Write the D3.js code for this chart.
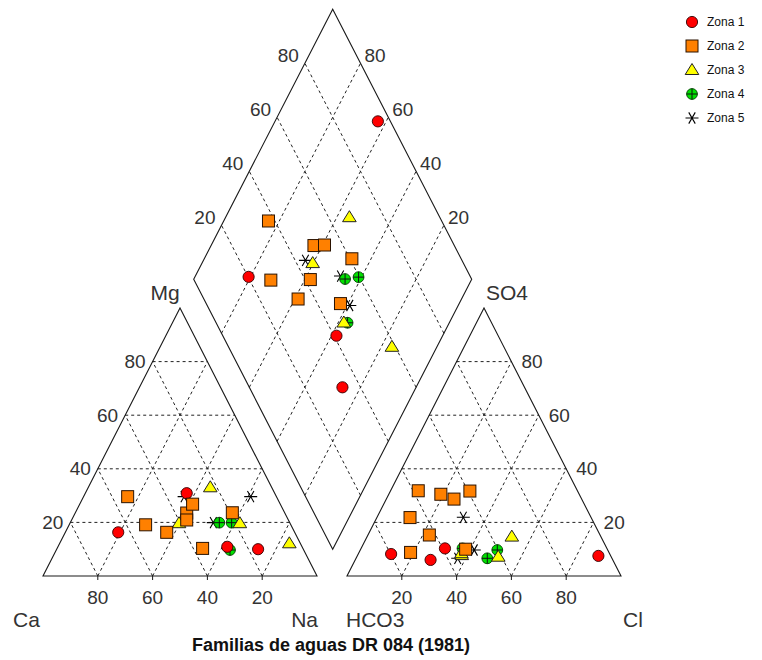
<!DOCTYPE html>
<html>
<head>
<meta charset="utf-8">
<script src="https://cdn.jsdelivr.net/npm/d3@7"></script>
<style>
html,body{margin:0;padding:0;background:#fff;}
svg{display:block;font-family:"Liberation Sans",Arial,sans-serif;}
</style>
</head>
<body>
<svg id="chart" width="762" height="660"></svg>
<script>
// ---- data (milliequivalent percentages) ----
const zoneNames = ["Zona 1", "Zona 2", "Zona 3", "Zona 4", "Zona 5"];
const zona1 = [
  {Ca:64.4, Mg:16.3, Na:19.3, HCO3:79.8, SO4:8.2,  Cl:12.0},
  {Ca:32.1, Mg:30.9, Na:37.0, HCO3:4.5,  SO4:7.5,  Cl:88.0},
  {Ca:27.3, Mg:10.9, Na:61.8, HCO3:59.1, SO4:10.3, Cl:30.6},
  {Ca:16.5, Mg:10.0, Na:73.5, HCO3:66.5, SO4:6.0,  Cl:27.5}
];
const zona2 = [
  {Ca:54.3, Mg:29.6, Na:16.1, HCO3:62.3, SO4:15.3, Cl:22.4},
  {Ca:46.7, Mg:16.3, Na:37.0, HCO3:50.5, SO4:30.5, Cl:19.0},
  {Ca:35.8, Mg:23.5, Na:40.7, HCO3:46.6, SO4:28.7, Cl:24.7},
  {Ca:36.6, Mg:10.3, Na:53.1, HCO3:39.3, SO4:31.7, Cl:29.0},
  {Ca:53.0, Mg:19.1, Na:27.9, HCO3:72.4, SO4:8.8,  Cl:18.8},
  {Ca:37.1, Mg:20.9, Na:42.0, HCO3:58.1, SO4:31.8, Cl:10.1},
  {Ca:32.0, Mg:26.8, Na:41.2, HCO3:66.1, SO4:21.8, Cl:12.1},
  {Ca:19.1, Mg:23.6, Na:57.3, HCO3:51.7, SO4:10.0, Cl:38.3}
];
const zona3 = [
  {Ca:22.4, Mg:33.1, Na:44.5, HCO3:32.5, SO4:14.7, Cl:52.8},
  {Ca:40.5, Mg:19.7, Na:39.8, HCO3:54.2, SO4:7.8,  Cl:38.0},
  {Ca:18.3, Mg:19.7, Na:62.0, HCO3:54.0, SO4:8.5,  Cl:37.5},
  {Ca:4.0,  Mg:12.2, Na:83.8, HCO3:41.2, SO4:7.2,  Cl:51.6}
];
const zona4 = [
  {Ca:25.7, Mg:19.9, Na:54.4, HCO3:45.5, SO4:6.6,  Cl:47.9},
  {Ca:21.2, Mg:19.9, Na:58.9, HCO3:40.3, SO4:9.7,  Cl:50.0},
  {Ca:26.9, Mg:9.7,  Na:63.4, HCO3:52.7, SO4:10.3, Cl:37.0}
];
const zona5 = [
  {Ca:33.7, Mg:29.6, Na:36.7, HCO3:56.3, SO4:6.6,  Cl:37.1},
  {Ca:27.9, Mg:19.9, Na:52.2, HCO3:46.6, SO4:21.9, Cl:31.5},
  {Ca:9.4,  Mg:29.6, Na:61.0, HCO3:48.7, SO4:9.7,  Cl:41.6}
];
const gridTicks = [20, 40, 60, 80];
const cationLabels = ["Mg", "Ca", "Na"];
const anionLabels = ["SO4", "HCO3", "Cl"];
const titleText = "Familias de aguas DR 084 (1981)";

// ---- layout ----
const svg = d3.select("#chart");
svg.append("rect").attr("width", 762).attr("height", 660).attr("fill", "#fff");

const baseY = 576, topY = 308;
const xCat = d3.scaleLinear().domain([0, 100]).range([43, 317]);
const xAn  = d3.scaleLinear().domain([0, 100]).range([347, 621]);
const yTri = d3.scaleLinear().domain([0, 100]).range([baseY, topY]);
const dX = d3.scaleLinear().domain([-100, 100]).range([332.7 - 139, 332.7 + 139]);
const dY = d3.scaleLinear().domain([0, 200]).range([549.3, 9.3]);

const cat = (mg, na) => [xCat(na + mg / 2), yTri(mg)];
const an  = (so4, cl) => [xAn(cl + so4 / 2), yTri(so4)];
const dia = (a, b) => [dX(b - a), dY(a + b)]; // a = Ca+Mg %, b = SO4+Cl %

const line = d3.line();
const ink = "#1a1a1a";

function drawPoly(pts) {
  svg.append("path").attr("d", line(pts) + "Z")
    .attr("fill", "none").attr("stroke", ink).attr("stroke-width", 1.1);
}
function drawDash(p, q) {
  svg.append("path").attr("d", line([p, q]))
    .attr("fill", "none").attr("stroke", "#222").attr("stroke-width", 1)
    .attr("stroke-dasharray", "3,3");
}

// grids
gridTicks.forEach(t => {
  drawDash(cat(t, 0), cat(t, 100 - t));
  drawDash(cat(0, t), cat(100 - t, t));
  drawDash(cat(0, 100 - t), cat(100 - t, 0));
  drawDash(an(t, 0), an(t, 100 - t));
  drawDash(an(0, t), an(100 - t, t));
  drawDash(an(0, 100 - t), an(100 - t, 0));
  drawDash(dia(t, 0), dia(t, 100));
  drawDash(dia(0, t), dia(100, t));
});

// outlines
drawPoly([cat(0, 0), cat(0, 100), cat(100, 0)]);
drawPoly([an(0, 0), an(0, 100), an(100, 0)]);
drawPoly([dia(0, 0), dia(100, 0), dia(100, 100), dia(0, 100)]);

// small base ticks
gridTicks.forEach(t => {
  [cat(0, 100 - t), an(0, t)].forEach(p => {
    svg.append("line").attr("x1", p[0]).attr("x2", p[0]).attr("y1", p[1]).attr("y2", p[1] + 4)
      .attr("stroke", ink).attr("stroke-width", 1);
  });
});

// tick labels
const tickFont = 19, tickColor = "#333";
function tlabel(x, y, txt, anchor) {
  svg.append("text").attr("x", x).attr("y", y).attr("dy", "0.35em")
    .attr("text-anchor", anchor).attr("font-size", tickFont).attr("fill", tickColor).text(txt);
}
gridTicks.forEach(t => {
  let p = cat(t, 0); tlabel(p[0] - 7, p[1], t, "end");          // Mg
  p = cat(0, 100 - t); tlabel(p[0], 597, t, "middle");           // Ca
  p = an(t, 100 - t); tlabel(p[0] + 10, p[1], t, "start");       // SO4
  p = an(0, t); tlabel(p[0], 597, t, "middle");                  // Cl
  p = dia(100, t); tlabel(p[0] - 6, p[1] - 8, t, "end");         // SO4+Cl
  p = dia(t, 100); tlabel(p[0] + 4, p[1] - 8, t, "start");       // Ca+Mg
});

// axis labels
const axFont = 21;
function alabel(x, y, txt, anchor) {
  svg.append("text").attr("x", x).attr("y", y).attr("text-anchor", anchor)
    .attr("font-size", axFont).attr("fill", tickColor).text(txt);
}
alabel(165, 300, cationLabels[0], "middle");
alabel(507, 300, anionLabels[0], "middle");
alabel(13, 627, cationLabels[1], "start");
alabel(318, 627, cationLabels[2], "end");
alabel(346, 627, anionLabels[1], "start");
alabel(623, 627, anionLabels[2], "start");

svg.append("text").attr("x", 331).attr("y", 651).attr("text-anchor", "middle")
  .attr("font-size", 18).attr("font-weight", "bold").attr("fill", "#111").text(titleText);

// ---- markers ----
function marker(g, type, x, y) {
  if (type === 0) {
    g.append("circle").attr("cx", x).attr("cy", y).attr("r", 5.6)
      .attr("fill", "#ff0000").attr("stroke", "#300").attr("stroke-width", 0.9);
  } else if (type === 1) {
    g.append("rect").attr("x", x - 6).attr("y", y - 6).attr("width", 12).attr("height", 12)
      .attr("fill", "#ff8000").attr("stroke", "#2a1200").attr("stroke-width", 1);
  } else if (type === 2) {
    g.append("path").attr("d", `M${x},${y - 6.5}L${x + 6.8},${y + 4.5}L${x - 6.8},${y + 4.5}Z`)
      .attr("fill", "#ffff00").attr("stroke", "#222").attr("stroke-width", 1);
  } else if (type === 3) {
    g.append("circle").attr("cx", x).attr("cy", y).attr("r", 5.4)
      .attr("fill", "#00e000").attr("stroke", "#040").attr("stroke-width", 0.9);
    g.append("path").attr("d", `M${x - 5.4},${y}H${x + 5.4}M${x},${y - 5.4}V${y + 5.4}`)
      .attr("stroke", "#111").attr("stroke-width", 1);
  } else {
    const r = 6.5, s = 6.5 * Math.sin(Math.PI / 3), c = 6.5 * Math.cos(Math.PI / 3);
    g.append("path").attr("d",
      `M${x - r},${y}H${x + r}M${x - c},${y - s}L${x + c},${y + s}M${x + c},${y - s}L${x - c},${y + s}`)
      .attr("stroke", "#000").attr("stroke-width", 1.1).attr("fill", "none");
  }
}

const zones = [zona1, zona2, zona3, zona4, zona5];
const drawOrder = [4, 3, 2, 0, 1];
const gPts = svg.append("g");
drawOrder.forEach(z => {
  zones[z].forEach(d => {
    const p1 = cat(d.Mg, d.Na);
    const p2 = an(d.SO4, d.Cl);
    const p3 = dia(d.Ca + d.Mg, d.SO4 + d.Cl);
    [p1, p2, p3].forEach(p => marker(gPts, z, p[0], p[1]));
  });
});

// legend
const lg = svg.append("g");
zoneNames.forEach((name, i) => {
  const y = 22 + i * 24;
  marker(lg, i, 692, y);
  lg.append("text").attr("x", 707).attr("y", y).attr("dy", "0.35em")
    .attr("font-size", 12).attr("fill", "#111").text(name);
});
</script>
</body>
</html>
